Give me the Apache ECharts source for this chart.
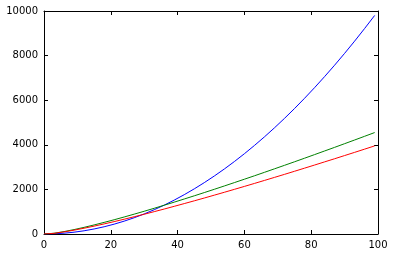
<!DOCTYPE html>
<html>
<head>
<meta charset="utf-8">
<script src="https://cdn.jsdelivr.net/npm/echarts@6/dist/echarts.min.js"></script>
<style>
html,body{margin:0;padding:0;background:#fff;}
#c{width:420px;height:271px;}
</style>
</head>
<body>
<div id="c"></div>
<script>
const xValues = [0,3,6,9,12,15,18,21,24,27,30,33,36,39,42,45,48,51,54,57,60,63,66,69,72,75,78,81,84,87,90,93,96,99];
const blueValues = [0,9,36,81,144,225,324,441,576,729,900,1089,1296,1521,1764,2025,2304,2601,2916,3249,3600,3969,4356,4761,5184,5625,6084,6561,7056,7569,8100,8649,9216,9801];
const greenValues = [0,33,108,198,298,406,520,639,763,890,1020,1154,1290,1429,1570,1713,1858,2005,2154,2305,2457,2610,2765,2922,3079,3238,3398,3560,3722,3885,4050,4215,4382,4549];
const redValues = [0,29,94,172,259,353,452,555,663,773,886,1002,1120,1241,1364,1488,1614,1742,1871,2002,2134,2267,2402,2538,2674,2813,2952,3092,3233,3374,3518,3661,3806,3951];
const xTicks = [0,20,40,60,80,100];
const yTicks = [0,2000,4000,6000,8000,10000];

const pair = (ys) => xValues.map((x, i) => [x, ys[i]]);
const lineStyle = {color:'#000', width:1};
const font = {fontFamily:'DejaVu Sans', fontSize:10, color:'#000', formatter:(v) => String(v)};

const chart = echarts.init(document.getElementById('c'), null, {renderer:'canvas'});
chart.setOption({
  animation:false,
  backgroundColor:'#fff',
  grid:{left:44, right:42, top:11, bottom:37},
  xAxis:[
    {type:'value', min:xTicks[0], max:xTicks[xTicks.length-1], interval:20, position:'bottom',
     axisLine:{show:true, onZero:false, lineStyle}, axisTick:{show:true, inside:true, length:4, lineStyle},
     axisLabel:Object.assign({margin:6}, font), splitLine:{show:false}},
    {type:'value', min:xTicks[0], max:xTicks[xTicks.length-1], interval:20, position:'top',
     axisLine:{show:true, onZero:false, lineStyle}, axisTick:{show:true, inside:true, length:4, lineStyle},
     axisLabel:{show:false}, splitLine:{show:false}}
  ],
  yAxis:[
    {type:'value', min:yTicks[0], max:yTicks[yTicks.length-1], interval:2000, position:'left',
     axisLine:{show:true, onZero:false, lineStyle}, axisTick:{show:true, inside:true, length:4, lineStyle},
     axisLabel:Object.assign({margin:6}, font), splitLine:{show:false}},
    {type:'value', min:yTicks[0], max:yTicks[yTicks.length-1], interval:2000, position:'right',
     axisLine:{show:true, onZero:false, lineStyle}, axisTick:{show:true, inside:true, length:4, lineStyle},
     axisLabel:{show:false}, splitLine:{show:false}}
  ],
  series:[
    {type:'line', data:pair(blueValues), showSymbol:false, lineStyle:{color:'#0000ff', width:1}, z:3},
    {type:'line', data:pair(greenValues), showSymbol:false, lineStyle:{color:'#008000', width:1}, z:3},
    {type:'line', data:pair(redValues), showSymbol:false, lineStyle:{color:'#ff0000', width:1}, z:3}
  ]
});
</script>
</body>
</html>
